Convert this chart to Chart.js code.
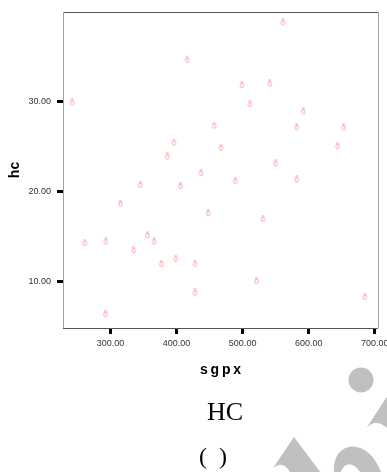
<!DOCTYPE html>
<html>
<head>
<meta charset="utf-8">
<script src="https://cdn.jsdelivr.net/npm/chart.js@4"></script>
<style>
	html, body { margin: 0; padding: 0; background: #fff; }
	#wrap { width: 387px; height: 472px; position: relative; }
</style>
</head>
<body>
<div id="wrap"><canvas id="scatter"></canvas></div>
<script>
// values
const sgpx = [561, 416, 499, 541, 242, 511, 592, 457, 582, 653, 396, 467, 644, 386,
	550, 437, 489, 582, 345, 406, 315, 448, 531, 261, 293, 356, 366, 335,
	377, 399, 428, 521, 428, 685, 292];
const hc = [38.8, 34.6, 31.8, 32.0, 29.9, 29.7, 28.9, 27.3, 27.1, 27.1, 25.4, 24.8, 25.0, 23.85,
	23.1, 22.0, 21.1, 21.3, 20.7, 20.55, 18.6, 17.55, 16.9, 14.2, 14.4, 15.1, 14.4, 13.4,
	11.9, 12.45, 11.9, 10.0, 8.7, 8.2, 6.3];
const xTicks = [300, 400, 500, 600, 700];
const yTicks = [10, 20, 30];

const points = sgpx.map((v, i) => ({ x: v, y: hc[i] }));

// small pink glyph used as the marker
const marker = document.createElement("canvas");
marker.width = 7;
marker.height = 9;
const mctx = marker.getContext("2d");
mctx.fillStyle = "#ff9a9a";
mctx.font = "8px 'DejaVu Sans'";
mctx.textAlign = "center";
mctx.textBaseline = "middle";
mctx.fillText("ð", 3.5, 4.5);

// frame, captions and the grey watermark
const extras = {
	id: "extras",
	beforeDatasetsDraw(chart) {
		const { ctx, chartArea: a } = chart;
		ctx.save();
		ctx.lineWidth = 1;
		ctx.strokeStyle = "#555";
		ctx.beginPath();
		ctx.moveTo(a.left, a.top + 0.5); ctx.lineTo(a.right, a.top + 0.5);
		ctx.moveTo(a.left, a.bottom + 0.5); ctx.lineTo(a.right, a.bottom + 0.5);
		ctx.stroke();
		ctx.strokeStyle = "#a0a0a0";
		ctx.beginPath();
		ctx.moveTo(a.left + 0.5, a.top); ctx.lineTo(a.left + 0.5, a.bottom);
		ctx.moveTo(a.right + 0.5, a.top); ctx.lineTo(a.right + 0.5, a.bottom);
		ctx.stroke();
		ctx.restore();
	},
	afterDraw(chart) {
		const ctx = chart.ctx;
		ctx.save();
		// watermark
		ctx.fillStyle = "#c0c0c0";
		ctx.beginPath();
		ctx.arc(361, 380, 12.5, 0, Math.PI * 2);
		ctx.fill();
		ctx.beginPath();
		ctx.moveTo(390, 392);
		ctx.lineTo(366.5, 428);
		ctx.quadraticCurveTo(376, 418, 387, 428);
		ctx.closePath();
		ctx.fill();
		ctx.beginPath();
		ctx.moveTo(294, 437);
		ctx.lineTo(273, 468);
		ctx.quadraticCurveTo(283, 460, 290, 472);
		ctx.lineTo(321, 473);
		ctx.closePath();
		ctx.fill();
		ctx.beginPath();
		ctx.moveTo(334, 472);
		ctx.bezierCurveTo(332, 440, 368, 436, 381, 472);
		ctx.lineTo(360, 472);
		ctx.bezierCurveTo(354, 462, 344, 462, 341, 472);
		ctx.closePath();
		ctx.fill();
		// captions
		ctx.fillStyle = "#000";
		ctx.textAlign = "center";
		ctx.textBaseline = "middle";
		ctx.font = "26px 'Liberation Serif'";
		ctx.fillText("HC", 225, 413);
		ctx.font = "24px 'Liberation Serif'";
		ctx.fillText("(  )", 213, 458);
		ctx.restore();
	}
};

new Chart(document.getElementById("scatter"), {
	type: "scatter",
	data: {
		datasets: [
			{
				data: points,
				pointStyle: marker,
				pointRadius: 4,
				pointHoverRadius: 4,
			},
		],
	},
	options: {
		responsive: true,
		maintainAspectRatio: false,
		animation: false,
		layout: {
			padding: { top: 12, right: 9, left: 0, bottom: 0 },
		},
		plugins: {
			legend: { display: false },
			tooltip: { enabled: false },
		},
		scales: {
			x: {
				type: "linear",
				min: 228,
				max: 705,
				afterFit: (s) => {
					s.height = 144;
					s.paddingLeft = 0;
					s.paddingRight = 0;
				},
				afterBuildTicks: (s) => { s.ticks = xTicks.map((v) => ({ value: v })); },
				border: { display: false },
				grid: {
					drawOnChartArea: false,
					tickLength: 6,
					tickWidth: 3,
					tickColor: "#000",
				},
				ticks: {
					padding: 4,
					color: "#333",
					font: { family: "'Liberation Sans'", size: 9 },
					maxRotation: 0,
					callback: (v) => v.toFixed(2),
				},
				title: {
					display: true,
					text: "s\u2009g\u2009p\u2009x",
					color: "#000",
					font: { family: "'Liberation Sans'", size: 14, weight: "bold" },
					padding: { top: 0, bottom: 93 },
				},
			},
			y: {
				type: "linear",
				min: 4.8,
				max: 40,
				afterFit: (s) => {
					s.width = 63;
					s.paddingTop = 0;
					s.paddingBottom = 0;
				},
				afterBuildTicks: (s) => { s.ticks = yTicks.map((v) => ({ value: v })); },
				border: { display: false },
				grid: {
					drawOnChartArea: false,
					tickLength: 6,
					tickWidth: 3,
					tickColor: "#000",
				},
				ticks: {
					padding: 6,
					color: "#333",
					font: { family: "'Liberation Sans'", size: 9 },
					callback: (v) => v.toFixed(2),
				},
				title: {
					display: true,
					text: "hc",
					color: "#000",
					font: { family: "'Liberation Sans'", size: 14, weight: "bold" },
					padding: { top: 7, bottom: 0 },
				},
			},
		},
	},
	plugins: [extras],
});
</script>
</body>
</html>
